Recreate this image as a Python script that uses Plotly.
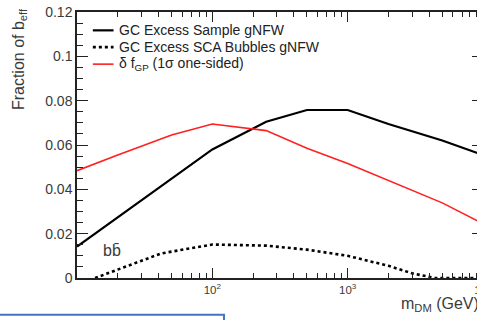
import plotly.graph_objects as go

# Data
mass_sample = [10, 20, 50, 100, 250, 500, 1000, 2000, 5000, 10000]
frac_sample = [0.0142, 0.0275, 0.0450, 0.0580, 0.0705, 0.0758, 0.0758, 0.0695, 0.0620, 0.0555]

mass_bubbles = [13.6, 20, 42, 100, 250, 500, 1000, 2000, 3000, 4400, 10000]
frac_bubbles = [0.0, 0.0037, 0.0111, 0.0151, 0.0146, 0.0128, 0.0100, 0.0055, 0.0021, 0.0, 0.0]

mass_gp = [10, 20, 50, 100, 250, 500, 1000, 2000, 5000, 10000]
frac_gp = [0.0484, 0.0555, 0.0645, 0.0695, 0.0665, 0.0585, 0.0517, 0.0440, 0.0339, 0.0245]

series_names = ["GC Excess Sample gNFW", "GC Excess SCA Bubbles gNFW",
                "δ f<sub>GP</sub> (1σ one-sided)"]

y_tickvals = [0, 0.02, 0.04, 0.06, 0.08, 0.10, 0.12]
y_ticktext = ["0", "0.02", "0.04", "0.06", "0.08", "0.1", "0.12"]
x_tickvals = [100, 1000, 10000]
x_ticktext = ["10<sup>2</sup>", "10<sup>3</sup>", "10<sup>4</sup>"]

FONT = "Liberation Sans, Arial, Helvetica, sans-serif"
TXT = "#3a3a3a"

fig = go.Figure()
fig.add_trace(go.Scatter(x=mass_sample, y=frac_sample, mode="lines",
                         name=series_names[0],
                         line=dict(color="black", width=2.2)))
fig.add_trace(go.Scatter(x=mass_bubbles, y=frac_bubbles, mode="lines",
                         name=series_names[1],
                         line=dict(color="black", width=2.6, dash="dot")))
fig.add_trace(go.Scatter(x=mass_gp, y=frac_gp, mode="lines",
                         name=series_names[2],
                         line=dict(color="#ff2020", width=1.6)))

fig.update_layout(
    width=485, height=320,
    margin=dict(l=77, r=2, t=12, b=42, autoexpand=False),
    paper_bgcolor="white", plot_bgcolor="white",
    font=dict(family=FONT, size=14, color=TXT),
    showlegend=False,
    xaxis=dict(type="log", range=[1, 4], showgrid=False, zeroline=False,
               automargin=False, ticklabeloverflow="allow",
               showline=True, linecolor="#222", linewidth=1.5, mirror="ticks",
               ticks="inside", ticklen=10, tickwidth=1.2, tickcolor="#222",
               tickvals=x_tickvals, ticktext=x_ticktext,
               tickfont=dict(size=11.5, color=TXT),
               minor=dict(ticks="inside", ticklen=5, tickwidth=1.2, tickcolor="#222",
                          dtick="D1", showgrid=False)),
    yaxis=dict(range=[0, 0.12], showgrid=False, zeroline=False,
               automargin=False,
               showline=True, linecolor="#222", linewidth=1.5, mirror="ticks",
               ticks="inside", ticklen=11, tickwidth=1.2, tickcolor="#222",
               tickvals=y_tickvals, ticktext=y_ticktext,
               tickfont=dict(size=14, color=TXT),
               minor=dict(ticks="inside", ticklen=6, tickwidth=1.2, tickcolor="#222",
                          dtick=0.005, tick0=0, showgrid=False)),
)

# Legend drawn in ROOT style (short line samples, tight rows)
leg_rows = [0.931, 0.868, 0.804]
for tr, yy in zip(fig.data, leg_rows):
    fig.add_shape(type="line", xref="paper", yref="paper",
                  x0=0.039, x1=0.090, y0=yy, y1=yy,
                  line=dict(color=tr.line.color, width=tr.line.width, dash=tr.line.dash))
    fig.add_annotation(text=tr.name, xref="paper", yref="paper", x=0.0985, y=yy,
                       xanchor="left", yanchor="middle", showarrow=False,
                       font=dict(size=14, color="#222"))

fig.add_annotation(text="Fraction of b<sub>eff</sub>", textangle=-90,
                   xref="paper", yref="paper", x=-0.143, y=1.022,
                   xanchor="center", yanchor="top", showarrow=False,
                   font=dict(size=16, color=TXT))
fig.add_annotation(text="m<sub>DM</sub> (GeV)", xref="paper", yref="paper",
                   x=0.995, y=-0.055, xanchor="right", yanchor="top", showarrow=False,
                   font=dict(size=16, color=TXT))
fig.add_annotation(text="bb\u0304", xref="x", yref="y", x=1.175, y=0.0124,
                   xanchor="left", yanchor="middle", showarrow=False,
                   font=dict(size=16, color=TXT))

# blue box from the surrounding slide
fig.add_shape(type="rect", xref="paper", yref="paper",
              x0=-0.2, x1=0.362, y0=-0.138, y1=-0.2,
              line=dict(color="#4472c4", width=2), fillcolor="rgba(0,0,0,0)",
              layer="above")

fig.write_html("out.html", config={"displayModeBar": False},
               post_script="document.body.style.margin='0px';document.body.style.overflow='hidden';")
